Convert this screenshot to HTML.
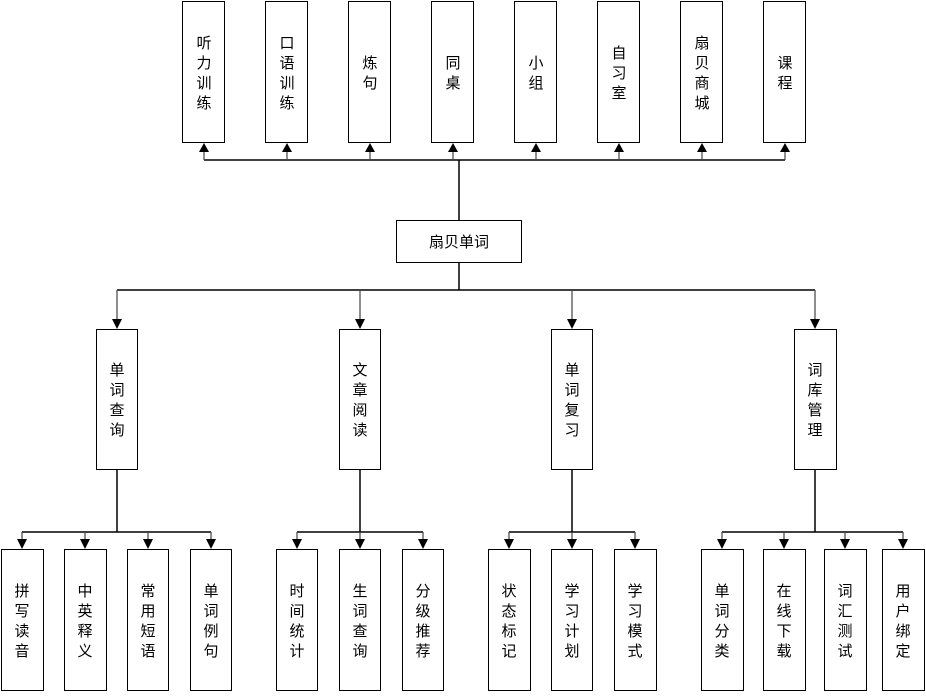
<!DOCTYPE html>
<html><head><meta charset="utf-8"><style>
body{margin:0;background:#fff}
svg text{font-family:"Liberation Sans","Noto Sans CJK SC",sans-serif;font-size:15px;fill:#000}
</style></head><body>
<svg width="926" height="693" xmlns="http://www.w3.org/2000/svg">
<g fill="none" stroke="#000" stroke-width="1">
<rect x="182.5" y="1.5" width="42" height="141"/>
<rect x="265.5" y="1.5" width="42" height="141"/>
<rect x="348.5" y="1.5" width="42" height="141"/>
<rect x="431.5" y="1.5" width="42" height="141"/>
<rect x="514.5" y="1.5" width="42" height="141"/>
<rect x="597.5" y="1.5" width="42" height="141"/>
<rect x="680.5" y="1.5" width="42" height="141"/>
<rect x="763.5" y="1.5" width="42" height="141"/>
<rect x="396.5" y="220.5" width="125" height="42"/>
<rect x="96.5" y="329.5" width="41" height="140"/>
<rect x="339.5" y="329.5" width="41" height="140"/>
<rect x="551.5" y="329.5" width="41" height="140"/>
<rect x="794.5" y="329.5" width="42" height="140"/>
<rect x="1.5" y="549.5" width="42" height="141"/>
<rect x="64.5" y="549.5" width="42" height="141"/>
<rect x="127.5" y="549.5" width="41" height="141"/>
<rect x="190.5" y="549.5" width="41" height="141"/>
<rect x="276.5" y="549.5" width="41" height="141"/>
<rect x="339.5" y="549.5" width="41" height="141"/>
<rect x="402.5" y="549.5" width="41" height="141"/>
<rect x="488.5" y="549.5" width="42" height="141"/>
<rect x="551.5" y="549.5" width="41" height="141"/>
<rect x="614.5" y="549.5" width="42" height="141"/>
<rect x="701.5" y="549.5" width="42" height="141"/>
<rect x="763.5" y="549.5" width="42" height="141"/>
<rect x="824.5" y="549.5" width="42" height="141"/>
<rect x="882.5" y="549.5" width="42" height="141"/>
</g>
<g fill="none" stroke="#000" stroke-width="1.5">
<path d="M459,220 V160 M204,160 H785 M459,262 V290 M117,290 H815 M117,469 V532 M22,532 H211 M360,469 V532 M297,532 H423 M572,469 V532 M509,532 H635 M815,469 V532 M722,532 H903"/>
</g>
<g stroke="#444" stroke-width="1.2">
<path d="M204,160V150 M287,160V150 M370,160V150 M453,160V150 M536,160V150 M619,160V150 M702,160V150 M785,160V150"/>
<path d="M117,290V320 M360,290V320 M572,290V320 M815,290V320"/>
<path d="M22,532V540 M85,532V540 M148,532V540 M211,532V540 M297,532V540 M360,532V540 M423,532V540 M509,532V540 M572,532V540 M635,532V540 M722,532V540 M784,532V540 M845,532V540 M903,532V540"/>
</g>
<g fill="#000">
<path d="M199,152h10l-5,-9z M282,152h10l-5,-9z M365,152h10l-5,-9z M448,152h10l-5,-9z M531,152h10l-5,-9z M614,152h10l-5,-9z M697,152h10l-5,-9z M780,152h10l-5,-9z"/>
<path d="M112,319h10l-5,10z M355,319h10l-5,10z M567,319h10l-5,10z M810,319h10l-5,10z"/>
<path d="M17,539h10l-5,10z M80,539h10l-5,10z M143,539h10l-5,10z M206,539h10l-5,10z M292,539h10l-5,10z M355,539h10l-5,10z M418,539h10l-5,10z M504,539h10l-5,10z M567,539h10l-5,10z M630,539h10l-5,10z M717,539h10l-5,10z M779,539h10l-5,10z M840,539h10l-5,10z M898,539h10l-5,10z"/>
</g>
<g text-anchor="middle">
<text x="204" y="48">听</text><text x="204" y="68">力</text><text x="204" y="88">训</text><text x="204" y="108">练</text>
<text x="287" y="48">口</text><text x="287" y="68">语</text><text x="287" y="88">训</text><text x="287" y="108">练</text>
<text x="370" y="68">炼</text><text x="370" y="88">句</text>
<text x="453" y="68">同</text><text x="453" y="88">桌</text>
<text x="536" y="68">小</text><text x="536" y="88">组</text>
<text x="619" y="58">自</text><text x="619" y="78">习</text><text x="619" y="98">室</text>
<text x="702" y="48">扇</text><text x="702" y="68">贝</text><text x="702" y="88">商</text><text x="702" y="108">城</text>
<text x="785" y="68">课</text><text x="785" y="88">程</text>
<text x="459" y="247">扇贝单词</text>
<text x="117" y="375">单</text><text x="117" y="395">词</text><text x="117" y="415">查</text><text x="117" y="435">询</text>
<text x="360" y="375">文</text><text x="360" y="395">章</text><text x="360" y="415">阅</text><text x="360" y="435">读</text>
<text x="572" y="375">单</text><text x="572" y="395">词</text><text x="572" y="415">复</text><text x="572" y="435">习</text>
<text x="815" y="375">词</text><text x="815" y="395">库</text><text x="815" y="415">管</text><text x="815" y="435">理</text>
<text x="22" y="596">拼</text><text x="22" y="616">写</text><text x="22" y="636">读</text><text x="22" y="656">音</text>
<text x="85" y="596">中</text><text x="85" y="616">英</text><text x="85" y="636">释</text><text x="85" y="656">义</text>
<text x="148" y="596">常</text><text x="148" y="616">用</text><text x="148" y="636">短</text><text x="148" y="656">语</text>
<text x="211" y="596">单</text><text x="211" y="616">词</text><text x="211" y="636">例</text><text x="211" y="656">句</text>
<text x="297" y="596">时</text><text x="297" y="616">间</text><text x="297" y="636">统</text><text x="297" y="656">计</text>
<text x="360" y="596">生</text><text x="360" y="616">词</text><text x="360" y="636">查</text><text x="360" y="656">询</text>
<text x="423" y="596">分</text><text x="423" y="616">级</text><text x="423" y="636">推</text><text x="423" y="656">荐</text>
<text x="509" y="596">状</text><text x="509" y="616">态</text><text x="509" y="636">标</text><text x="509" y="656">记</text>
<text x="572" y="596">学</text><text x="572" y="616">习</text><text x="572" y="636">计</text><text x="572" y="656">划</text>
<text x="635" y="596">学</text><text x="635" y="616">习</text><text x="635" y="636">模</text><text x="635" y="656">式</text>
<text x="722" y="596">单</text><text x="722" y="616">词</text><text x="722" y="636">分</text><text x="722" y="656">类</text>
<text x="784" y="596">在</text><text x="784" y="616">线</text><text x="784" y="636">下</text><text x="784" y="656">载</text>
<text x="845" y="596">词</text><text x="845" y="616">汇</text><text x="845" y="636">测</text><text x="845" y="656">试</text>
<text x="903" y="596">用</text><text x="903" y="616">户</text><text x="903" y="636">绑</text><text x="903" y="656">定</text>
</g>
</svg>
</body></html>
